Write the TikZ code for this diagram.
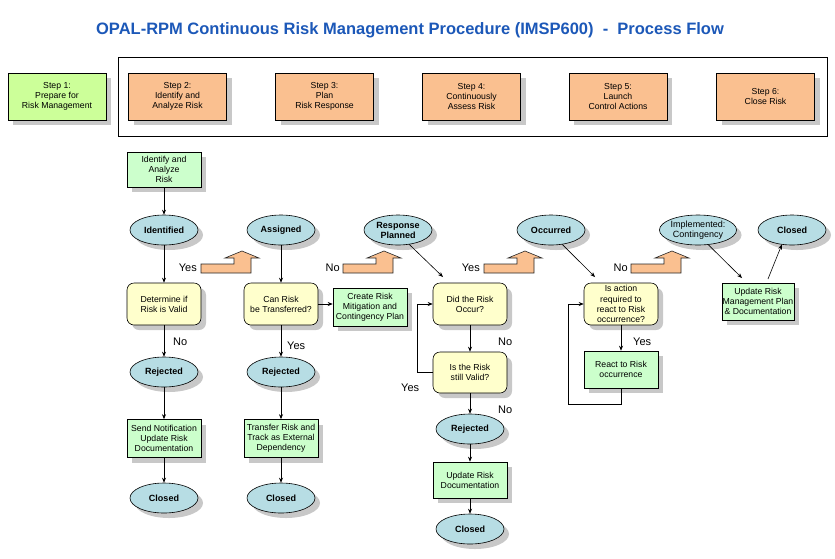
\documentclass[tikz,border=0pt]{standalone}
\usepackage{fontspec}
\setmainfont{Liberation Sans}
\usetikzlibrary{shapes.geometric,shadows,arrows.meta}
\definecolor{titleblue}{RGB}{28,88,184}
\definecolor{limefill}{RGB}{204,255,153}
\definecolor{peach}{RGB}{250,192,144}
\definecolor{mint}{RGB}{204,255,204}
\definecolor{cream}{RGB}{255,255,204}
\definecolor{ovalfill}{RGB}{183,221,228}
\definecolor{shadowgray}{RGB}{200,200,200}
\newcommand{\bigarr}[1]{\filldraw[fill=peach,draw=black!85,line width=0.6pt] (#1,273) -- (#1,264) -- (#1+33,264) -- (#1+33,258) -- (#1+24,258) -- (#1+41,251) -- (#1+58,258) -- (#1+50,258) -- (#1+50,273) -- cycle;}
\begin{document}
\begin{tikzpicture}[x=1pt,y=-1pt,
  shadowed/.style={drop shadow={shadow xshift=5pt,shadow yshift=-5pt,fill=shadowgray,opacity=1}},
  txt/.style={font=\fontsize{8.7}{10.2}\selectfont},
  stepbox/.style={draw,line width=0.8pt,shadowed,minimum width=98,minimum height=47,align=center,txt,inner sep=1pt},
  procbox/.style={draw,line width=0.6pt,shadowed,fill=mint,minimum width=74,minimum height=37,align=center,txt,inner sep=0pt},
  decbox/.style={draw,line width=0.6pt,shadowed,fill=cream,rounded corners=7pt,minimum width=74,minimum height=42,align=center,txt,inner sep=0pt},
  oval/.style={ellipse,draw,line width=0.6pt,shadowed,fill=ovalfill,minimum width=68,minimum height=30,inner sep=0pt,align=center,font=\fontsize{9}{10}\selectfont\bfseries},
  yn/.style={font=\fontsize{11}{13}\selectfont,inner sep=0pt},
  conn/.style={-{Stealth[length=5pt,width=4pt]},line width=0.6pt},
  plain/.style={line width=0.6pt}
]
\useasboundingbox (0,0) rectangle (835,558);
\fill[white] (0,0) rectangle (835,558);

% title
\node[font=\fontsize{16.5}{19}\selectfont\bfseries,text=titleblue] (title) at (410,30) {OPAL-RPM Continuous Risk Management Procedure (IMSP600)\ \ -\ \ Process Flow};

% steps
\draw[line width=0.9pt] (118,57) rectangle (827,136);
\node[stepbox,fill=limefill] (s1) at (57,96.5) {Step 1:\\Prepare for\\Risk Management};
\node[stepbox,fill=peach] (s2) at (177.5,96.5) {Step 2:\\Identify and\\Analyze Risk};
\node[stepbox,fill=peach] (s3) at (324.5,96.5) {Step 3:\\Plan\\Risk Response};
\node[stepbox,fill=peach] (s4) at (471.5,96.5) {Step 4:\\Continuously\\Assess Risk};
\node[stepbox,fill=peach] (s5) at (618,96.5) {Step 5:\\Launch\\Control Actions};
\node[stepbox,fill=peach] (s6) at (765.5,96.5) {Step 6:\\Close Risk};

% big arrows
\bigarr{201}
\bigarr{343}
\bigarr{484}
\bigarr{631}

% top ovals
\node[procbox,minimum height=35] (idbox) at (164,169.5) {Identify and\\Analyze\\Risk};
\node[oval] (ident) at (164,230) {Identified};
\node[oval] (assigned) at (281,230) {Assigned};
\node[oval] (resp) at (398,230) {Response\\Planned};
\node[oval,font=\fontsize{9}{10}\selectfont] (occ) at (551,230) {\bfseries Occurred};
\node[oval,font=\fontsize{9}{10}\selectfont] (impl) at (698,230) {Implemented:\\Contingency};
\node[oval] (closedT) at (792,230) {Closed};

% decisions and processes
\node[decbox] (dec1) at (164,304) {Determine if\\Risk is Valid};
\node[decbox] (dec2) at (281,304) {Can Risk\\be Transferred?};
\node[procbox,minimum height=38] (create) at (370,307) {Create Risk\\Mitigation and\\Contingency Plan};
\node[decbox] (dec3) at (470,304) {Did the Risk\\Occur?};
\node[decbox,minimum height=41] (dec4) at (470,372.5) {Is the Risk\\still Valid?};
\node[decbox] (dec5) at (621,304) {Is action\\required to\\react to Risk\\occurrence?};
\node[procbox] (react) at (621,369.5) {React to Risk\\occurrence};
\node[procbox,minimum width=72] (update) at (758,301.5) {Update Risk\\Management Plan\\\& Documentation};

% lower column 1
\node[oval] (rej1) at (164,372) {Rejected};
\node[procbox,minimum height=38] (send) at (164,438.5) {Send Notification\\Update Risk\\Documentation};
\node[oval] (closed1) at (164,498) {Closed};
% lower column 2
\node[oval] (rej2) at (281,372) {Rejected};
\node[procbox,minimum height=38] (transfer) at (281,438.5) {Transfer Risk and\\Track as External\\Dependency};
\node[oval] (closed2) at (281,498) {Closed};
% lower column 3
\node[oval] (rej3) at (470,429) {Rejected};
\node[procbox,minimum height=36] (upddoc) at (470,480) {Update Risk\\Documentation};
\node[oval] (closed3) at (470,529) {Closed};

% yes/no labels
\node[yn,anchor=east] (y1) at (197,268) {Yes};
\node[yn,anchor=east] (n1) at (340,268) {No};
\node[yn,anchor=east] (y2) at (480,268) {Yes};
\node[yn,anchor=east] (n2) at (628,268) {No};
\node[yn,anchor=west] (n3) at (173,342) {No};
\node[yn,anchor=west] (y3) at (287,346) {Yes};
\node[yn,anchor=west] (n4) at (498,342) {No};
\node[yn,anchor=west] (y4) at (401,388) {Yes};
\node[yn,anchor=west] (n5) at (498,410) {No};
\node[yn,anchor=west] (y5) at (633,342) {Yes};

% coordinates for free ends
\coordinate (respend) at (443,277);
\coordinate (occend) at (595,277);
\coordinate (implend) at (742,278);
\coordinate (updstart) at (768,279);
\coordinate (loopA) at (417,372.5);
\coordinate (loopB) at (417,304);
\coordinate (loopC) at (621,404);
\coordinate (loopD) at (568,404);
\coordinate (loopE) at (568,304);

% connectors
\draw[conn] (idbox) -- (ident);
\draw[conn] (ident) -- (dec1);
\draw[conn] (dec1) -- (rej1);
\draw[conn] (rej1) -- (send);
\draw[conn] (send) -- (closed1);
\draw[conn] (assigned) -- (dec2);
\draw[conn] (dec2.east) -- (create.west |- dec2.east);
\draw[conn] (dec2) -- (rej2);
\draw[conn] (rej2) -- (transfer);
\draw[conn] (transfer) -- (closed2);
\draw[conn] (resp.-52) -- (respend);
\draw[conn] (dec3) -- (dec4);
\draw[conn] (dec4.west) -- (loopA) -- (loopB) -- (dec3.west);
\draw[conn] (dec4) -- (rej3);
\draw[conn] (rej3) -- (upddoc);
\draw[conn] (upddoc) -- (closed3);
\draw[conn] (occ.-52) -- (occend);
\draw[conn] (dec5) -- (react);
\draw[conn] (react.south) -- (loopC) -- (loopD) -- (loopE) -- (dec5.west);
\draw[conn] (impl.-55) -- (implend);
\draw[conn] (updstart) -- (closedT.-125);
\end{tikzpicture}
\end{document}
